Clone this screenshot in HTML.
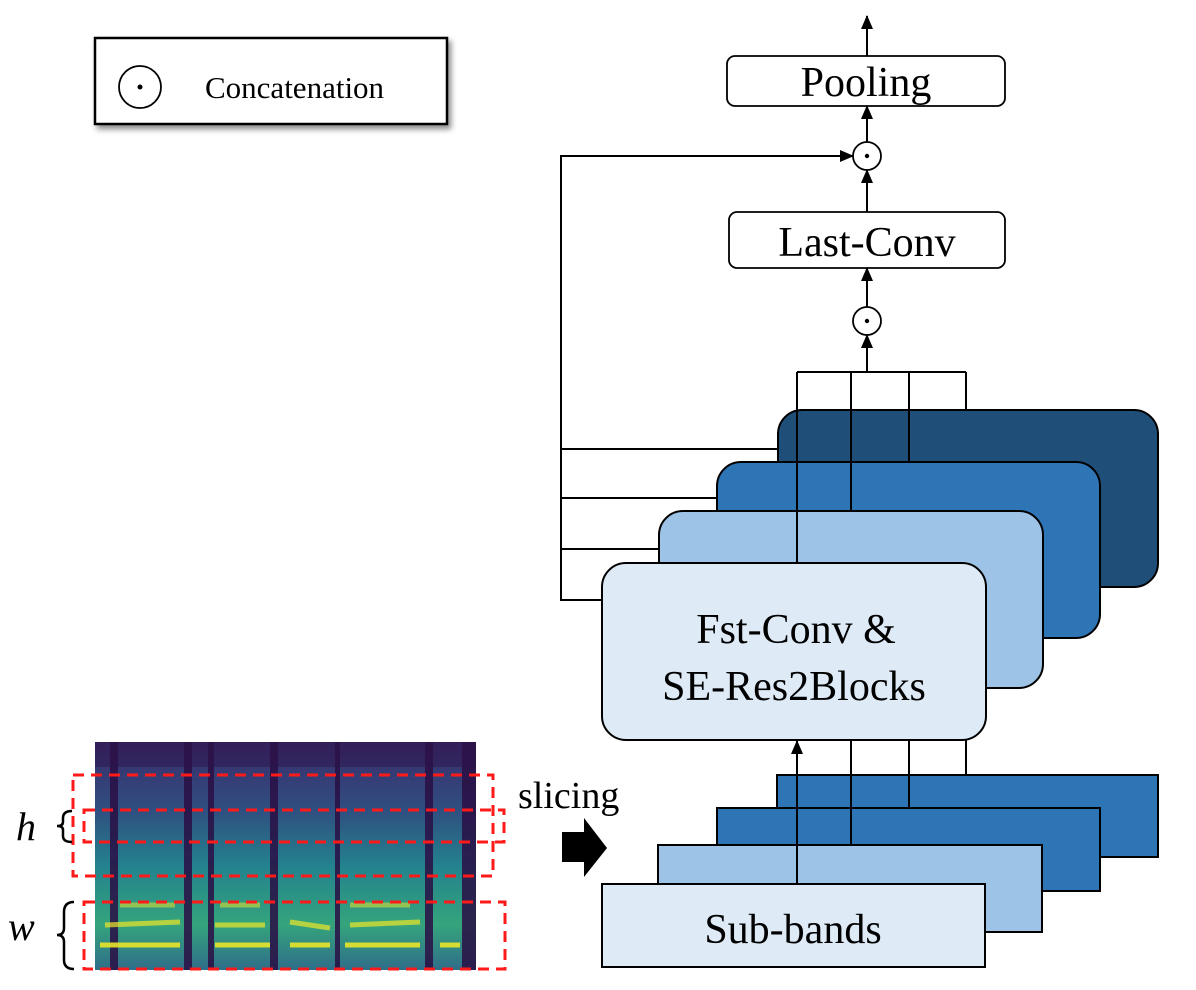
<!DOCTYPE html>
<html><head><meta charset="utf-8"><style>
body{margin:0;background:#fff}
svg{display:block}
</style></head><body>
<svg width="1196" height="990" viewBox="0 0 1196 990" xmlns="http://www.w3.org/2000/svg" font-family="'Liberation Serif', 'Times New Roman', 'DejaVu Serif', serif">
<defs>
<marker id="a" markerWidth="14" markerHeight="12" refX="13" refY="6" orient="auto" markerUnits="userSpaceOnUse">
<path d="M0,0 L14,6 L0,12 Z" fill="#000"/></marker>
<filter id="sh" x="-10%" y="-20%" width="130%" height="160%"><feDropShadow dx="3" dy="4" stdDeviation="3" flood-opacity="0.45"/></filter>
<linearGradient id="sg" x1="0" y1="0" x2="0" y2="1">
<stop offset="0" stop-color="#3b2a6a"/><stop offset="0.3" stop-color="#2f4f80"/><stop offset="0.55" stop-color="#23838e"/><stop offset="0.8" stop-color="#35a47c"/><stop offset="1" stop-color="#2f6d8a"/></linearGradient>
</defs>
<!-- legend -->
<rect x="95" y="38" width="352" height="86" fill="#fff" stroke="#000" stroke-width="2.5" filter="url(#sh)"/>
<circle cx="140" cy="87" r="21" fill="none" stroke="#000" stroke-width="1.8"/>
<circle cx="140" cy="87" r="2.5" fill="#000"/>
<text x="205" y="98" font-size="31" font-family="'Liberation Serif', serif">Concatenation</text>

<!-- spectrogram -->
<rect x="95" y="742" width="381" height="228" fill="url(#sg)"/>
<g fill="#2a0f45" opacity="0.85">
<rect x="110" y="742" width="8" height="228"/><rect x="184" y="742" width="8" height="228"/><rect x="208" y="742" width="6" height="228"/><rect x="270" y="742" width="8" height="228"/>
<rect x="335" y="742" width="5" height="228"/><rect x="425" y="742" width="8" height="228"/><rect x="462" y="742" width="14" height="228"/>
<rect x="95" y="742" width="381" height="25" opacity="0.5"/>
</g>
<g stroke="#e8e52a" stroke-width="5" opacity="0.9" fill="none">
<path d="M100,945 L180,945 M215,945 L270,945 M290,945 L330,945 M345,945 L420,945 M440,945 L460,945"/>
<path d="M105,925 L180,922 M215,925 L265,925 M290,922 L330,928 M350,925 L420,922" opacity="0.8"/>
<path d="M120,905 L175,905 M220,905 L260,905 M350,905 L410,905" opacity="0.6"/>
</g>
<g fill="none" stroke="#ff1a1a" stroke-width="3" stroke-dasharray="11,7">
<rect x="73" y="775" width="420" height="101"/>
<rect x="84" y="810" width="420" height="32"/>
<rect x="84" y="902" width="421" height="67"/>
</g>
<text x="16" y="840" font-size="40" font-style="italic">h</text>
<text x="8" y="940" font-size="40" font-style="italic">w</text>
<path d="M72,811 Q63,811 63,818 L63,822 Q63,826 57,826 Q63,826 63,830 L63,836 Q63,842 72,842" fill="none" stroke="#000" stroke-width="2.5"/>
<path d="M74,902 Q64,902 64,912 L64,928 Q64,935 57,935 Q64,935 64,942 L64,960 Q64,969 74,969" fill="none" stroke="#000" stroke-width="2.5"/>
<text x="518" y="808" font-size="38">slicing</text>
<path d="M562,832 L584,832 L584,818 L607,848 L584,877 L584,862 L562,862 Z" fill="#000"/>

<!-- top section -->
<rect x="727" y="56" width="278" height="50" rx="8" fill="#fff" stroke="#000" stroke-width="1.8"/>
<text x="866" y="96" font-size="42" text-anchor="middle">Pooling</text>
<line x1="867" y1="56" x2="867" y2="16" stroke="#000" stroke-width="2" marker-end="url(#a)"/>
<circle cx="867" cy="156" r="14" fill="#fff" stroke="#000" stroke-width="1.8"/><circle cx="867" cy="156" r="2.2"/>
<line x1="867" y1="142" x2="867" y2="106" stroke="#000" stroke-width="2" marker-end="url(#a)"/>
<line x1="867" y1="212" x2="867" y2="170" stroke="#000" stroke-width="2" marker-end="url(#a)"/>
<rect x="729" y="212" width="276" height="56" rx="8" fill="#fff" stroke="#000" stroke-width="1.8"/>
<text x="867" y="256" font-size="42" text-anchor="middle">Last-Conv</text>
<circle cx="867" cy="321" r="14" fill="#fff" stroke="#000" stroke-width="1.8"/><circle cx="867" cy="321" r="2.2"/>
<line x1="867" y1="307" x2="867" y2="268" stroke="#000" stroke-width="2" marker-end="url(#a)"/>
<line x1="867" y1="372" x2="867" y2="335" stroke="#000" stroke-width="2" marker-end="url(#a)"/>
<!-- feedback -->
<polyline points="602,600 561,600 561,156 853,156" fill="none" stroke="#000" stroke-width="2" marker-end="url(#a)"/>
<g stroke="#000" stroke-width="2">
<line x1="561" y1="449" x2="778" y2="449"/><line x1="561" y1="498" x2="717" y2="498"/><line x1="561" y1="549" x2="659" y2="549"/>
<line x1="797" y1="372" x2="966" y2="372"/>
</g>
<!-- rounded cards -->
<rect x="778" y="410" width="380" height="177" rx="24" fill="#1f4e79" stroke="#000" stroke-width="2"/>
<rect x="717" y="462" width="383" height="176" rx="24" fill="#2e75b6" stroke="#000" stroke-width="2"/>
<rect x="659" y="511" width="384" height="177" rx="24" fill="#9dc3e6" stroke="#000" stroke-width="2"/>
<rect x="602" y="563" width="384" height="177" rx="24" fill="#deebf7" stroke="#000" stroke-width="2"/>
<g stroke="#000" stroke-width="2">
<line x1="797" y1="372" x2="797" y2="563"/><line x1="851" y1="372" x2="851" y2="511"/>
<line x1="909" y1="372" x2="909" y2="462"/><line x1="966" y1="372" x2="966" y2="410"/>
</g>
<text x="796" y="643" font-size="42" text-anchor="middle">Fst-Conv &amp;</text>
<text x="794" y="700" font-size="42" text-anchor="middle">SE-Res2Blocks</text>
<!-- bottom rect stack -->
<rect x="777" y="775" width="381" height="82" fill="#2e75b6" stroke="#000" stroke-width="2"/>
<rect x="717" y="808" width="383" height="83" fill="#2e75b6" stroke="#000" stroke-width="2"/>
<rect x="658" y="845" width="384" height="87" fill="#9dc3e6" stroke="#000" stroke-width="2"/>
<rect x="602" y="884" width="383" height="83" fill="#deebf7" stroke="#000" stroke-width="2"/>
<g stroke="#000" stroke-width="2">
<line x1="851" y1="740" x2="851" y2="845"/><line x1="909" y1="740" x2="909" y2="808"/><line x1="966" y1="740" x2="966" y2="775"/>
</g>
<line x1="797" y1="884" x2="797" y2="741" stroke="#000" stroke-width="2" marker-end="url(#a)"/>
<text x="793" y="943" font-size="42" text-anchor="middle">Sub-bands</text>
</svg>
</body></html>
